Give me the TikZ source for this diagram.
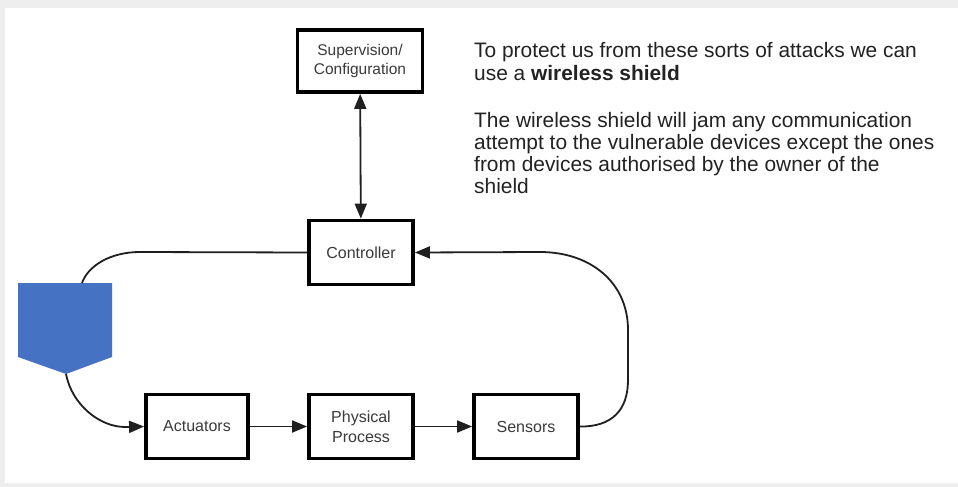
\documentclass[tikz,border=0pt]{standalone}
\usepackage{fontspec}
\setmainfont{Liberation Sans}
\usetikzlibrary{arrows.meta}
\definecolor{framegray}{HTML}{EEEEEE}
\definecolor{shieldblue}{RGB}{70,114,196}
\definecolor{labelgray}{HTML}{3A3A3A}
\definecolor{bodytext}{HTML}{222222}
\begin{document}
\begin{tikzpicture}[x=1pt,y=-1pt,
  block/.style={draw=black, line width=3.8pt, fill=white, text=labelgray,
    minimum width=104pt, minimum height=64pt, inner sep=0pt, align=center,
    font=\fontsize{16}{20}\selectfont},
  link/.style={line width=1.8pt, draw=black!88},
  head/.style={-{Triangle[length=15pt,width=12pt]}},
  twohead/.style={{Triangle[length=15pt,width=12pt]}-{Triangle[length=15pt,width=12pt]}},
  para/.style={anchor=base west, align=left, text=bodytext, inner sep=0pt}]

% page frame
\fill[framegray] (0,0) rectangle (958,487);
\fill[white] (5,8) rectangle (958,483);
\useasboundingbox (0,0) rectangle (958,487);

% blocks
\node[block, minimum width=125pt, minimum height=62pt, font=\fontsize{15.5}{19.5}\selectfont] (sup) at (360,61) {Supervision/\\Configuration};
\node[block] (ctrl) at (361,252.5) {Controller};
\node[block, minimum width=102pt] (act) at (197,426.5) {Actuators};
\node[block] (phys) at (361,426.5) {Physical\\Process};
\node[block] (sens) at (526,426.5) {Sensors};

% wireless shield marker
\coordinate (shieldtop) at (82,283);
\coordinate (shieldtip) at (66,374);
\fill[shieldblue] (18,283) -- (112,283) -- (112,357) -- (shieldtip) -- (18,357) -- cycle;

% connectors
\draw[link, twohead] (sup) -- (ctrl);
\draw[link] (ctrl.west) -- (140,252) .. controls (110,252) and (88,266) .. (shieldtop);
\draw[link, head] (shieldtip) .. controls (72,405) and (100,427) .. (125,427) -- (act.west);
\draw[link, head] (act) -- (phys);
\draw[link, head] (phys) -- (sens);
\draw[link, head] (sens.east) .. controls (612,427) and (628,410) .. (628,380)
  -- (628,330) .. controls (628,282) and (590,252) .. (540,252) -- (ctrl.east);

% explanatory text (anchored at the baseline of each block's last line)
\node[para, font=\fontsize{20.9}{23}\selectfont] (note1) at (474,80.5)
  {To protect us from these sorts of attacks we can\\use a \textbf{wireless shield}};
\node[para, font=\fontsize{20.9}{22}\selectfont] (note2) at (474,193)
  {The wireless shield will jam any communication\\attempt to the vulnerable devices except the ones\\from devices authorised by the owner of the\\shield};
\end{tikzpicture}
\end{document}
